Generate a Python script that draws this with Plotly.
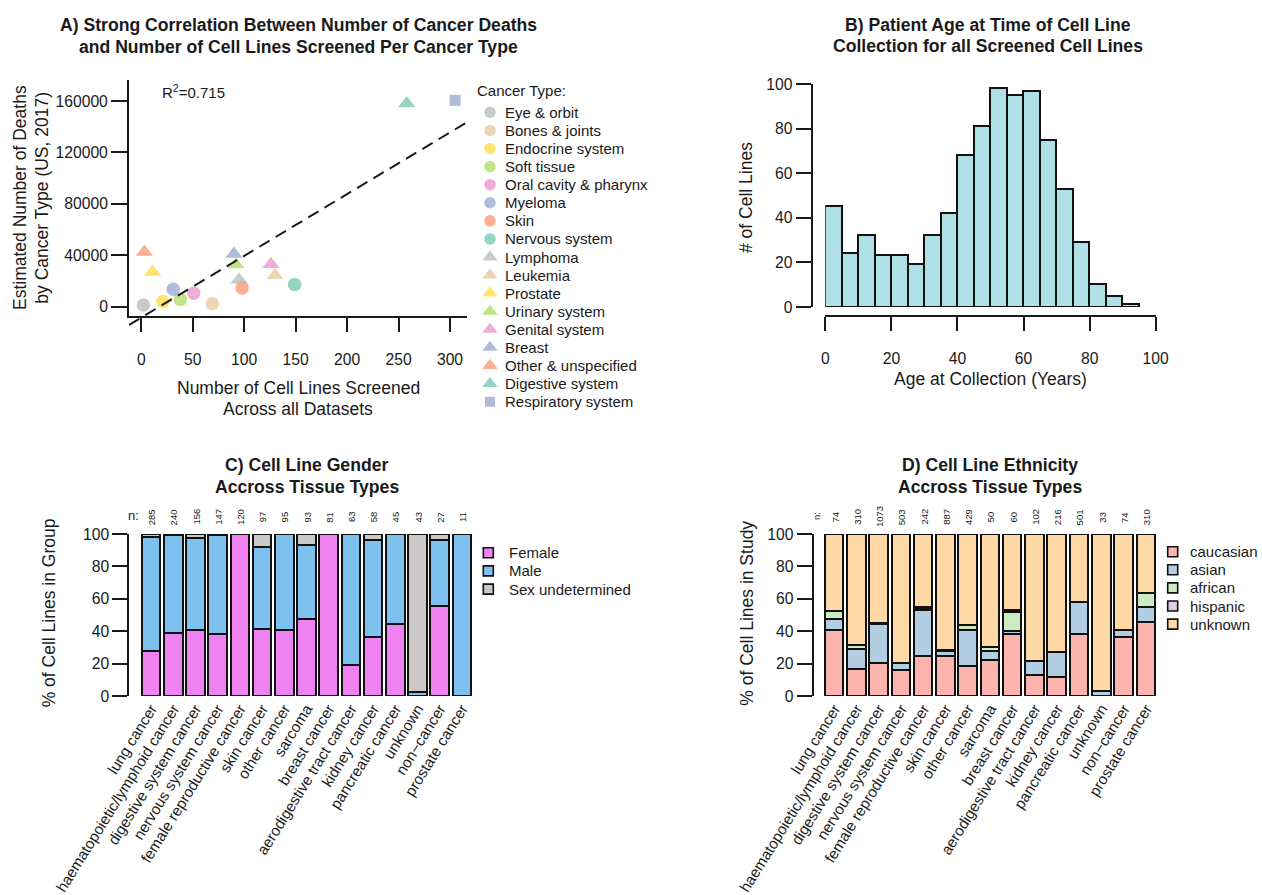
import numpy as np
import plotly.graph_objects as go

W, H = 1262, 895
FONT = "Liberation Sans, Arial, Helvetica, sans-serif"
INK = "#1a1a1a"
EDGE = "#111111"

# ---------------- A) deaths vs. screened cell lines ----------------
cancer_types = ["Eye & orbit", "Bones & joints", "Endocrine system", "Soft tissue",
                "Oral cavity & pharynx", "Myeloma", "Skin", "Nervous system",
                "Lymphoma", "Leukemia", "Prostate", "Urinary system", "Genital system",
                "Breast", "Other & unspecified", "Digestive system", "Respiratory system"]
cells_screened = [2, 69, 21, 38, 51, 31, 98, 149, 95, 130, 11, 92, 126, 90, 3, 258, 305]
deaths_us_2017 = [1300, 2300, 4100, 5700, 10500, 13500, 14500, 17300, 21000, 24500,
                  27000, 32800, 33000, 41000, 42500, 158000, 160500]
type_colors = ["#B3B3B3", "#E5C494", "#FFD92F", "#A6D854", "#E78AC3", "#8DA0CB", "#FC8D62", "#66C2A5",
               "#B3B3B3", "#E5C494", "#FFD92F", "#A6D854", "#E78AC3", "#8DA0CB", "#FC8D62", "#66C2A5",
               "#8DA0CB"]
type_symbols = ["circle"] * 8 + ["triangle-up"] * 8 + ["square"]
r_squared_text = "R<sup>2</sup>=0.715"

# ---------------- B) age at collection ----------------
age_bin_edges = list(range(0, 100, 5))
age_counts = [45, 24, 32, 23, 23, 19, 32, 42, 68, 81, 98, 95, 97, 75, 53, 29, 10, 5, 1]

# ---------------- C) / D) tissue groups ----------------
tissues = ["lung cancer", "haematopoietic/lymphoid cancer", "digestive system cancer",
           "nervous system cancer", "female reproductive cancer", "skin cancer",
           "other cancer", "sarcoma", "breast cancer", "aerodigestive tract cancer",
           "kidney cancer", "pancreatic cancer", "unknown", "non\u2212cancer", "prostate cancer"]

gender_n = [285, 240, 156, 147, 120, 97, 95, 93, 81, 63, 58, 45, 43, 27, 11]
female_pct = [27.7, 38.8, 41.0, 38.1, 100, 41.2, 40.5, 47.3, 100, 19.0, 36.2, 44.4, 0, 55.6, 0]
male_pct = [70.2, 60.4, 56.4, 61.2, 0, 50.5, 59.5, 46.2, 0, 81.0, 60.4, 55.6, 2.3, 40.7, 100]
undetermined_pct = [2.1, 0.8, 2.6, 0.7, 0, 8.3, 0, 6.5, 0, 0, 3.4, 0, 97.7, 3.7, 0]

ethnicity_n = [74, 310, 1073, 503, 242, 887, 429, 50, 60, 102, 216, 501, 33, 74, 310]
caucasian_pct = [40.5, 16.9, 20.2, 16.0, 24.9, 24.5, 18.7, 22.0, 38.3, 12.7, 11.6, 38.1, 0, 36.5, 45.7]
asian_pct = [6.8, 11.9, 24.0, 4.2, 28.2, 3.3, 22.2, 6.0, 1.7, 8.9, 15.7, 19.7, 3.0, 4.0, 9.0]
african_pct = [5.4, 2.7, 0.6, 0.2, 1.2, 0.3, 3.0, 2.0, 11.7, 0, 0, 0, 0, 0, 8.9]
hispanic_pct = [0, 0, 0.3, 0, 0.8, 0, 0, 0, 1.6, 0, 0, 0, 0, 0, 0]
unknown_pct = [47.3, 68.5, 54.9, 79.6, 44.9, 71.9, 56.1, 70.0, 46.7, 78.4, 72.7, 42.2, 97.0, 59.5, 36.4]

gender_groups = ["Female", "Male", "Sex undetermined"]
gender_colors = ["#EE82EE", "#7EC0EE", "#CDC9C9"]
ethnic_groups = ["caucasian", "asian", "african", "hispanic", "unknown"]
ethnic_colors = ["#FBB4AE", "#B3CDE3", "#CCEBC5", "#DECBE4", "#FED9A6"]


# ---------------- layout helpers (pixel -> paper) ----------------
def xdom(a, b):
    return [a / W, b / W]


def ydom(top, bottom):
    return [1 - bottom / H, 1 - top / H]


def px(x):
    return x / W


def py(y):
    return 1 - y / H


TICKFONT = dict(family=FONT, size=15.7, color=INK)
CATFONT = dict(family=FONT, size=15.2, color=INK)
axis_base = dict(showline=True, linecolor=INK, linewidth=2, ticks="outside", tickwidth=2,
                 tickcolor=INK, showgrid=False, zeroline=False, tickfont=TICKFONT,
                 fixedrange=True, automargin=False)

# scatter panel calibration
A_X0, A_XK = 141.3, (450.0 - 141.3) / 300
A_Y0, A_YK = 306.7, (306.7 - 101.0) / 160000


def a_x(p):
    return (p - A_X0) / A_XK


def a_y(p):
    return (A_Y0 - p) / A_YK


fig = go.Figure()

# ---- A: points + least-squares fit
size_for = {"circle": 13.5, "triangle-up": 15, "square": 11}
fig.add_trace(go.Scatter(
    x=cells_screened, y=deaths_us_2017, mode="markers", text=cancer_types,
    marker=dict(color=type_colors, symbol=type_symbols,
                size=[size_for[s] for s in type_symbols], line=dict(width=0)),
    xaxis="x", yaxis="y", showlegend=False, hoverinfo="text+x+y"))

slope, intercept = np.polyfit(cells_screened, deaths_us_2017, 1)
fit_x = np.array([a_x(129), a_x(467)])
fit_y = slope * fit_x + intercept
fig.add_trace(go.Scatter(
    x=fit_x, y=fit_y, mode="lines", line=dict(color=INK, width=2, dash="12px,7px"),
    xaxis="x", yaxis="y5", showlegend=False, hoverinfo="skip"))

# ---- B: histogram of ages
bin_centers = [e + 2.5 for e in age_bin_edges[:-1]]
fig.add_trace(go.Bar(
    x=bin_centers, y=age_counts, width=5,
    marker=dict(color="#B0E0E6", line=dict(color=EDGE, width=2)),
    xaxis="x2", yaxis="y2", showlegend=False, cliponaxis=False))

# ---- C: gender stacked bars
for vals, col, name in zip([female_pct, male_pct, undetermined_pct], gender_colors, gender_groups):
    fig.add_trace(go.Bar(
        x=tissues, y=vals, name=name, width=1 / 1.2,
        marker=dict(color=col, line=dict(color=EDGE, width=2)),
        xaxis="x3", yaxis="y3", showlegend=False, cliponaxis=False))

# ---- D: ethnicity stacked bars
for vals, col, name in zip([caucasian_pct, asian_pct, african_pct, hispanic_pct, unknown_pct],
                           ethnic_colors, ethnic_groups):
    fig.add_trace(go.Bar(
        x=tissues, y=vals, name=name, width=1 / 1.2,
        marker=dict(color=col, line=dict(color=EDGE, width=2)),
        xaxis="x4", yaxis="y4", showlegend=False, cliponaxis=False))


# ---- hand-built legends on helper axes
def legend_axes(n, xc, y_first, step):
    xa = dict(domain=xdom(xc - 10, xc + 10), range=[-1, 1], visible=False,
              fixedrange=True, automargin=False)
    ya = dict(domain=ydom(y_first - step / 2, y_first + step * (n - 0.5)),
              range=[n - 0.5, -0.5], visible=False, fixedrange=True, automargin=False)
    return xa, ya


legend_sizes = {"circle": 11.5, "triangle-up": 13.5, "square": 10}
fig.add_trace(go.Scatter(
    x=[0] * len(cancer_types), y=list(range(len(cancer_types))), mode="markers",
    marker=dict(color=type_colors, symbol=type_symbols,
                size=[legend_sizes[s] for s in type_symbols], line=dict(width=0)),
    xaxis="x6", yaxis="y6", showlegend=False, hoverinfo="skip", cliponaxis=False))
fig.add_trace(go.Scatter(
    x=[0] * len(gender_groups), y=list(range(len(gender_groups))), mode="markers",
    marker=dict(color=gender_colors, symbol="square", size=10, line=dict(color=EDGE, width=1.6)),
    xaxis="x7", yaxis="y7", showlegend=False, hoverinfo="skip", cliponaxis=False))
fig.add_trace(go.Scatter(
    x=[0] * len(ethnic_groups), y=list(range(len(ethnic_groups))), mode="markers",
    marker=dict(color=ethnic_colors, symbol="square", size=10, line=dict(color=EDGE, width=1.6)),
    xaxis="x8", yaxis="y8", showlegend=False, hoverinfo="skip", cliponaxis=False))

LEG_A = (len(cancer_types), 490.0, 112.3, 18.09)
LEG_C = (len(gender_groups), 488.3, 552.7, 18.2)
LEG_D = (len(ethnic_groups), 1172.7, 551.7, 18.1)
x6, y6 = legend_axes(*LEG_A)
x7, y7 = legend_axes(*LEG_C)
x8, y8 = legend_axes(*LEG_D)

annotations = []


def note(text, x, y, size=15, xref="paper", yref="paper", xanchor="center",
         yanchor="middle", angle=0, bold=False):
    annotations.append(dict(
        text=f"<b>{text}</b>" if bold else text, x=x, y=y, xref=xref, yref=yref,
        xanchor=xanchor, yanchor=yanchor, textangle=angle, showarrow=False,
        font=dict(family=FONT, size=size, color=INK)))


# legend labels
LS = 15
note("Cancer Type:", px(475), py(90), LS, xanchor="left")
for i, lab in enumerate(cancer_types):
    note(lab, px(502.7), i, LS, xanchor="left", yref="y6")
for i, lab in enumerate(gender_groups):
    note(lab, px(507.3), i, LS, xanchor="left", yref="y7")
for i, lab in enumerate(ethnic_groups):
    note(lab, px(1188), i, LS, xanchor="left", yref="y8")

# panel titles
TS = 17.6
note("A) Strong Correlation Between Number of Cancer Deaths", px(298.7), py(25), TS, bold=True)
note("and Number of Cell Lines Screened Per Cancer Type", px(298.7), py(47), TS, bold=True)
note("B) Patient Age at Time of Cell Line", px(988.3), py(25), TS, bold=True)
note("Collection for all Screened Cell Lines", px(988.3), py(46.5), TS, bold=True)
note("C) Cell Line Gender", px(306.7), py(465), TS, bold=True)
note("Accross Tissue Types", px(306.7), py(487), TS, bold=True)
note("D) Cell Line Ethnicity", px(990), py(465), TS, bold=True)
note("Accross Tissue Types", px(990), py(487), TS, bold=True)

# axis titles
AT = 17.5
note("Estimated Number of Deaths", px(20), py(198), AT, angle=-90)
note("by Cancer Type (US, 2017)", px(41.7), py(198), AT, angle=-90)
note("Number of Cell Lines Screened", px(298), py(388.3), AT)
note("Across all Datasets", px(298), py(409.3), AT)
note(r_squared_text, px(160), py(91), 15, xanchor="left")
note("# of Cell Lines", px(746), py(198), AT, angle=-90)
note("Age at Collection (Years)", px(990), py(379.3), AT)
note("% of Cell Lines in Group", px(49.3), py(613), AT, angle=-90)
note("% of Cell Lines in Study", px(746.7), py(613), AT, angle=-90)

# group sizes above the bars
note("n:", px(133), py(515), 13)
for t, n in zip(tissues, gender_n):
    note(str(n), t, py(517), 9.5, xref="x3", angle=-90)
note("n:", px(816), py(516), 9.5, angle=-90)
for t, n in zip(tissues, ethnicity_n):
    note(str(n), t, py(517), 9.5, xref="x4", angle=-90)

cat_axis = dict(type="category", categoryorder="array", categoryarray=tissues, showline=False,
                ticks="", showgrid=False, zeroline=False, tickangle=-58, tickfont=CATFONT,
                fixedrange=True, automargin=False, range=[-0.5, 14.5])

fig.update_layout(
    width=W, height=H, autosize=False,
    margin=dict(l=0, r=0, t=0, b=0, pad=0, autoexpand=False),
    paper_bgcolor="white", plot_bgcolor="rgba(0,0,0,0)",
    barmode="stack", bargap=0,
    font=dict(family=FONT, color=INK),
    annotations=annotations,
    xaxis=dict(axis_base, domain=xdom(129, 467), range=[a_x(129), a_x(467)], anchor="y",
               tickvals=list(range(0, 301, 50)), ticklen=14, ticklabelstandoff=14),
    yaxis=dict(axis_base, domain=ydom(80, 316), range=[a_y(316), a_y(80)], anchor="x",
               tickvals=list(range(0, 160001, 40000)), tickformat="d", ticklen=16),
    yaxis5=dict(domain=ydom(80, 330), range=[a_y(330), a_y(80)], anchor="x",
                visible=False, fixedrange=True, automargin=False),
    xaxis2=dict(axis_base, domain=xdom(825.3, 1155.7), range=[0, 100], anchor="free",
                position=py(316), tickvals=list(range(0, 101, 20)), ticklen=14,
                ticklabelstandoff=14),
    yaxis2=dict(axis_base, domain=ydom(84.3, 307), range=[0, 100], anchor="free",
                position=px(811.7), tickvals=list(range(0, 101, 20)), ticklen=15),
    xaxis3=dict(cat_axis, domain=xdom(140.1, 473.1), anchor="y3"),
    yaxis3=dict(axis_base, domain=ydom(534, 696), range=[0, 100], anchor="free",
                position=px(128.3), tickvals=list(range(0, 101, 20)), ticklen=15),
    xaxis4=dict(cat_axis, domain=xdom(823.4, 1157.3), anchor="y4"),
    yaxis4=dict(axis_base, domain=ydom(534, 696), range=[0, 100], anchor="free",
                position=px(812.7), tickvals=list(range(0, 101, 20)), ticklen=15),
    xaxis6=dict(x6, anchor="y6"), yaxis6=dict(y6, anchor="x6"),
    xaxis7=dict(x7, anchor="y7"), yaxis7=dict(y7, anchor="x7"),
    xaxis8=dict(x8, anchor="y8"), yaxis8=dict(y8, anchor="x8"),
)

fig.write_html("out.html")
